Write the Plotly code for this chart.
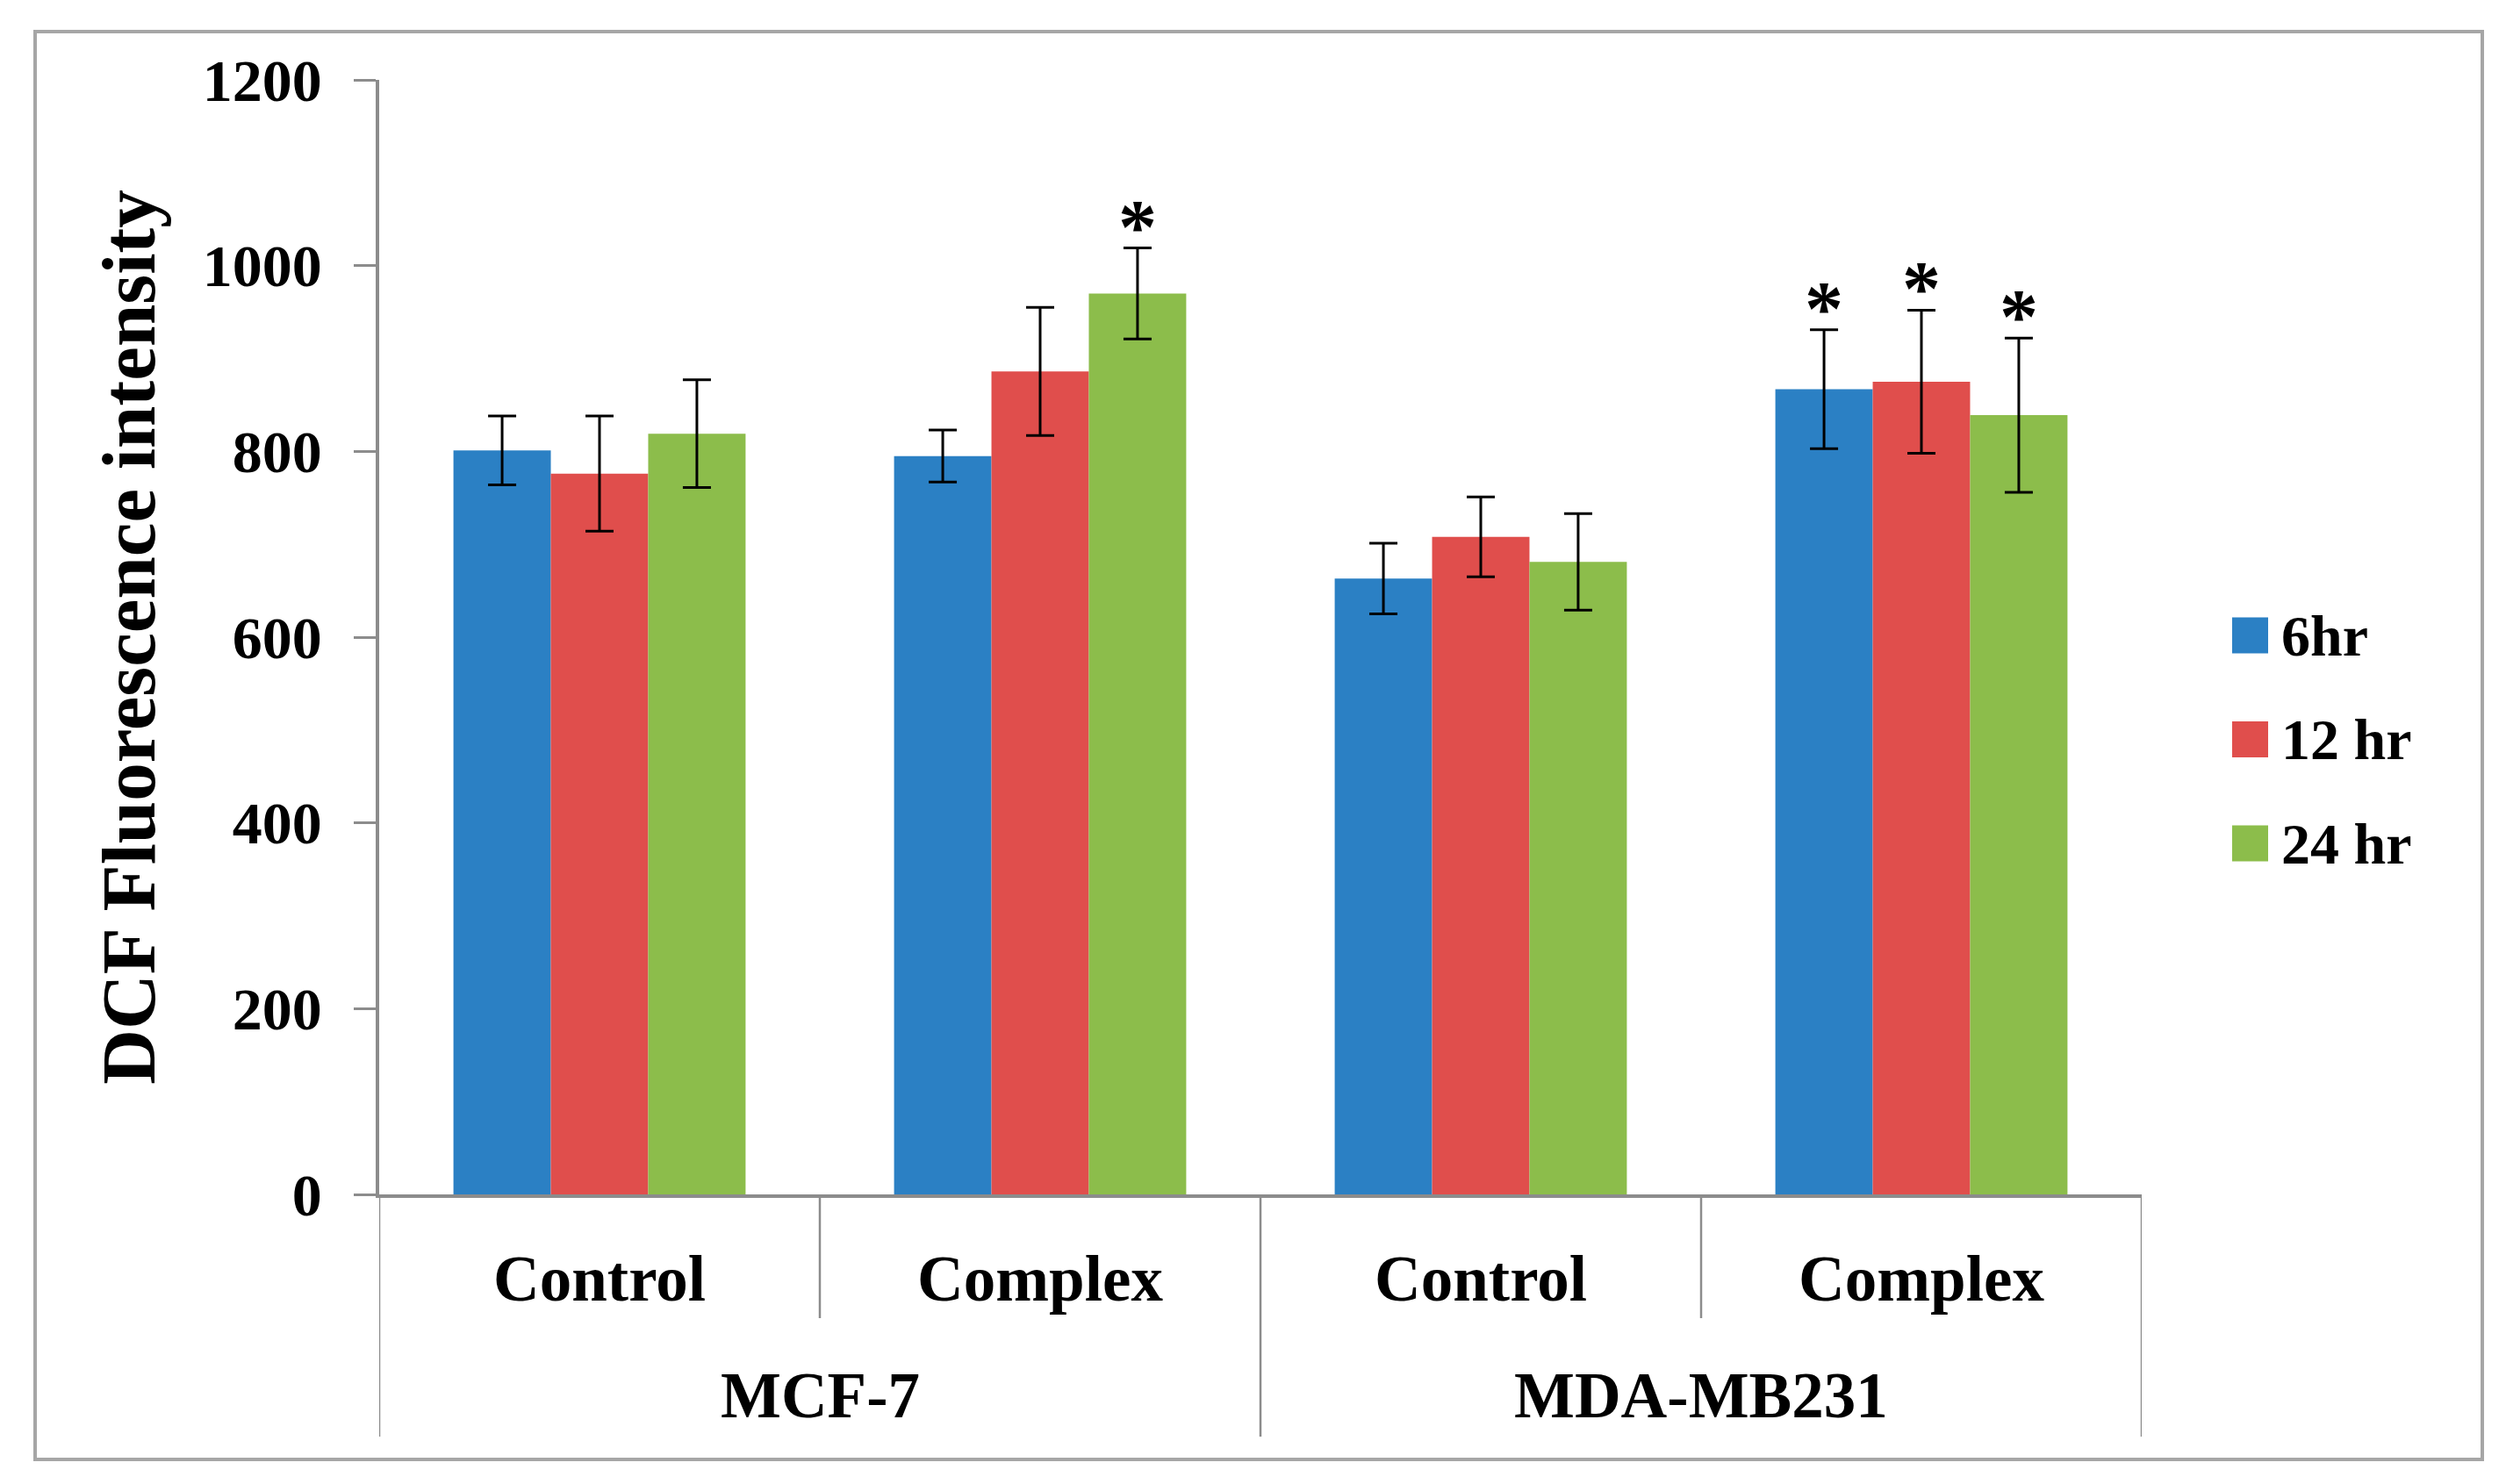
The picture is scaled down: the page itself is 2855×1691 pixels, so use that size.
import plotly.graph_objects as go

# values
cell_lines = ["MCF-7", "MDA-MB231"]
treatments = ["Control", "Complex", "Control", "Complex"]
series_names = ["6hr", "12 hr", "24 hr"]
colors = ["#2b80c4", "#e04e4c", "#8cbd4b"]

dcf_6hr = [801, 795, 663, 867]
dcf_12hr = [776, 886, 708, 875]
dcf_24hr = [819, 970, 681, 839]
err_6hr = [37, 28, 38, 64]
err_12hr = [62, 69, 43, 77]
err_24hr = [58, 49, 52, 83]
# which bars carry a significance star
sig_6hr = [0, 0, 0, 1]
sig_12hr = [0, 0, 0, 1]
sig_24hr = [0, 1, 0, 1]

yticks = [0, 200, 400, 600, 800, 1000, 1200]

W, H = 2855, 1691
L, R, T, B = 432, 2440, 91, 1361   # plot area in px
pw, ph = R - L, B - T
FONT = "Liberation Serif"
GRAY = "#8c8c8c"
bargap = 0.337

def px_x(p):
    return (p - L) / pw

def px_y(p):
    return (B - p) / ph

values = [dcf_6hr, dcf_12hr, dcf_24hr]
errors = [err_6hr, err_12hr, err_24hr]
sigs = [sig_6hr, sig_12hr, sig_24hr]
xpos = list(range(len(treatments)))

fig = go.Figure()
for name, col, v, e in zip(series_names, colors, values, errors):
    fig.add_trace(go.Bar(
        x=xpos, y=v, name=name, marker_color=col, marker_line_width=0,
        error_y=dict(type="data", array=e, color="black", thickness=3, width=16),
        showlegend=False,
    ))

# stars above significant bars
bw = (1 - bargap) / len(series_names)
annotations = []
for i, (v, e, s) in enumerate(zip(values, errors, sigs)):
    off = (i - (len(series_names) - 1) / 2) * bw
    for j in range(len(xpos)):
        if s[j]:
            annotations.append(dict(
                x=xpos[j] + off, y=v[j] + e[j], xref="x", yref="y",
                text="<b>*</b>", showarrow=False, yanchor="bottom",
                yshift=-26, font=dict(family=FONT, size=88, color="black"),
            ))

# outer group labels
for k, lab in enumerate(cell_lines):
    annotations.append(dict(
        x=2 * k + 0.5, y=px_y(1590), xref="x", yref="paper",
        text="<b>%s</b>" % lab, showarrow=False, yanchor="middle",
        font=dict(family=FONT, size=73, color="black"),
    ))

shapes = []
# dividers below the axis
for xb in [0.5, 2.5]:
    shapes.append(dict(type="line", xref="x", yref="paper", x0=xb, x1=xb,
                       y0=0, y1=px_y(1502), line=dict(color=GRAY, width=2.5)))
for xb in [-0.5, 1.5, 3.5]:
    shapes.append(dict(type="line", xref="x", yref="paper", x0=xb, x1=xb,
                       y0=0, y1=px_y(1637), line=dict(color=GRAY, width=2.5)))

# outer frame
shapes.append(dict(type="rect", xref="paper", yref="paper",
                   x0=px_x(40), x1=px_x(2828), y0=px_y(1663), y1=px_y(36),
                   line=dict(color="#a6a6a6", width=4)))

# legend drawn by hand so the swatches can be large
for i, (name, col) in enumerate(zip(series_names, colors)):
    yc = 724 + i * 118.5
    shapes.append(dict(type="rect", xref="paper", yref="paper",
                       x0=px_x(2543), x1=px_x(2584),
                       y0=px_y(yc + 20.5), y1=px_y(yc - 20.5),
                       fillcolor=col, line=dict(width=0)))
    annotations.append(dict(
        x=px_x(2597), y=px_y(yc), xref="paper", yref="paper",
        text="<b>%s</b>" % name, showarrow=False, xanchor="left", yanchor="middle",
        font=dict(family=FONT, size=66, color="black"),
    ))

fig.update_layout(
    width=W, height=H, autosize=False,
    margin=dict(l=L, r=W - R, t=T, b=H - B, pad=0),
    paper_bgcolor="white", plot_bgcolor="white",
    barmode="group", bargap=bargap, bargroupgap=0,
    font=dict(family=FONT, color="black"),
    annotations=annotations, shapes=shapes,
    showlegend=False,
)
fig.update_xaxes(
    range=[-0.5, 3.5], tickvals=xpos,
    ticktext=["<b>%s</b>" % t for t in treatments],
    tickfont=dict(family=FONT, size=73, color="black"),
    showline=True, linecolor=GRAY, linewidth=3.5,
    showgrid=False, zeroline=False, ticks="", ticklabelstandoff=30,
)
fig.update_yaxes(
    range=[0, 1200], tickvals=yticks,
    ticktext=["<b>%d</b>" % t for t in yticks],
    tickfont=dict(family=FONT, size=68, color="black"),
    showline=True, linecolor=GRAY, linewidth=3.5,
    ticks="outside", ticklen=25, tickwidth=3, tickcolor=GRAY,
    showgrid=False, zeroline=False, ticklabelstandoff=23,
    title=dict(text="<b>DCF Fluorescence intensity</b>", standoff=26,
               font=dict(family=FONT, size=87, color="black")),
)

fig.write_html("out.html", config={"displayModeBar": False},
               post_script="document.body.style.margin='0';")
